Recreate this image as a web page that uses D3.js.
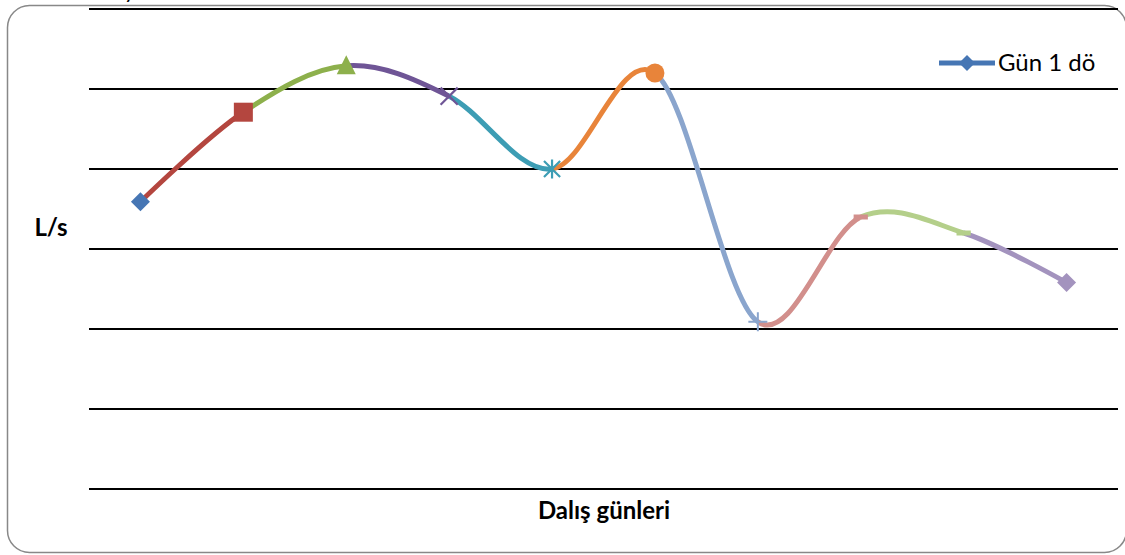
<!DOCTYPE html>
<html>
<head>
<meta charset="utf-8">
<script src="https://cdn.jsdelivr.net/npm/d3@7/dist/d3.min.js"></script>
<style>
  html, body { margin: 0; padding: 0; background: #fff; }
  svg { display: block; }
</style>
</head>
<body>
<svg id="chart" width="1125" height="555"></svg>
<script>
// ---- data ----
const categories = ["1", "2", "3", "4", "5", "6", "7", "8", "9", "10"];
const values = [3.59, 4.71, 5.29, 4.91, 4.00, 5.20, 2.09, 3.40, 3.20, 2.58];
const pointColors = ["#4676B4", "#B4463F", "#8DB04C", "#6F5596", "#3D9DB4", "#E8843A", "#8AA5CD", "#D28F8C", "#B4CF8A", "#A393BE"];
const pointSymbols = ["diamond", "square", "triangle", "x", "star", "circle", "plus", "dash", "dash", "diamond"];
const yTicks = [0, 1, 2, 3, 4, 5, 6];
const seriesName = "Gün 1 dö";
const xTitle = "Dalış günleri";
const yTitle = "L/s";

const svg = d3.select("#chart");
const plot = { left: 89, right: 1118, top: 9, bottom: 489 };

// frame
svg.append("rect")
  .attr("x", 7.5).attr("y", 5.5)
  .attr("width", 1119).attr("height", 547)
  .attr("rx", 22).attr("ry", 22)
  .attr("fill", "#fff").attr("stroke", "#888").attr("stroke-width", 1.5);

// clipped title descender at top (the reference shows only this cut-off glyph)
svg.append("text").attr("x", 124).attr("y", -2)
  .attr("font-family", "Lato, sans-serif").attr("font-size", 22)
  .attr("fill", "#000").text("y");

const x = d3.scaleBand().domain(categories).range([plot.left, plot.right]);
const y = d3.scaleLinear().domain([0, 6]).range([plot.bottom, plot.top]);

// gridlines
svg.append("g").selectAll("line").data(yTicks).join("line")
  .attr("x1", plot.left).attr("x2", plot.right)
  .attr("y1", d => y(d)).attr("y2", d => y(d))
  .attr("stroke", "#000").attr("stroke-width", 2);

const cx = (d, i) => x(categories[i]) + x.bandwidth() / 2;
const pts = values.map((v, i) => [cx(v, i), y(v)]);

const line = d3.line().curve(d3.curveCardinal.tension(0));
const defs = svg.append("defs");

// segments colored by end point
for (let i = 0; i < pts.length - 1; i++) {
  const id = "seg" + i;
  defs.append("clipPath").attr("id", id).append("rect")
    .attr("x", pts[i][0]).attr("y", 0)
    .attr("width", pts[i + 1][0] - pts[i][0]).attr("height", 555);
  svg.append("path")
    .attr("d", line(pts))
    .attr("clip-path", `url(#${id})`)
    .attr("fill", "none")
    .attr("stroke", pointColors[i + 1])
    .attr("stroke-width", 5);
}

// markers
function drawMarker(g, type, color, px, py, s) {
  const h = s / 2;
  if (type === "diamond") {
    g.append("path").attr("d", `M${px},${py - h}L${px + h},${py}L${px},${py + h}L${px - h},${py}Z`).attr("fill", color);
  } else if (type === "square") {
    g.append("rect").attr("x", px - h).attr("y", py - h).attr("width", s).attr("height", s).attr("fill", color);
  } else if (type === "triangle") {
    g.append("path").attr("d", `M${px},${py - h - 1}L${px + h},${py + h - 1}L${px - h},${py + h - 1}Z`).attr("fill", color);
  } else if (type === "circle") {
    g.append("circle").attr("cx", px).attr("cy", py).attr("r", h).attr("fill", color);
  } else if (type === "x") {
    const k = h * 0.9;
    g.append("path").attr("d", `M${px - k},${py - k}L${px + k},${py + k}M${px - k},${py + k}L${px + k},${py - k}`)
      .attr("stroke", color).attr("stroke-width", 2.2);
  } else if (type === "star") {
    const k = h * 0.85;
    g.append("path").attr("d", `M${px - k},${py - k}L${px + k},${py + k}M${px - k},${py + k}L${px + k},${py - k}M${px},${py - h}L${px},${py + h}`)
      .attr("stroke", color).attr("stroke-width", 2.2);
  } else if (type === "plus") {
    g.append("path").attr("d", `M${px - h},${py}L${px + h},${py}M${px},${py - h}L${px},${py + h}`)
      .attr("stroke", color).attr("stroke-width", 2);
  } else if (type === "dash") {
    g.append("rect").attr("x", px - h * 0.75).attr("y", py - 2.5).attr("width", s * 0.75).attr("height", 5).attr("fill", color);
  }
}
const mg = svg.append("g");
pts.forEach((p, i) => drawMarker(mg, pointSymbols[i], pointColors[i], p[0], p[1], 19));

// legend
const lg = svg.append("g");
lg.append("line").attr("x1", 939).attr("x2", 995).attr("y1", 63).attr("y2", 63)
  .attr("stroke", pointColors[0]).attr("stroke-width", 5);
drawMarker(lg, "diamond", pointColors[0], 967, 63, 16);
lg.append("text").attr("x", 998).attr("y", 71)
  .attr("font-family", "Lato, sans-serif").attr("font-size", 24)
  .attr("fill", "#000").text(seriesName);

// axis titles
svg.append("text").attr("x", 51).attr("y", 236).attr("text-anchor", "middle")
  .attr("font-family", "Lato, sans-serif").attr("font-size", 24).attr("font-weight", "bold")
  .attr("fill", "#000").text(yTitle);
svg.append("text").attr("x", 604).attr("y", 519).attr("text-anchor", "middle")
  .attr("font-family", "Lato, sans-serif").attr("font-size", 24).attr("font-weight", "bold")
  .attr("fill", "#000").text(xTitle);
</script>
</body>
</html>
